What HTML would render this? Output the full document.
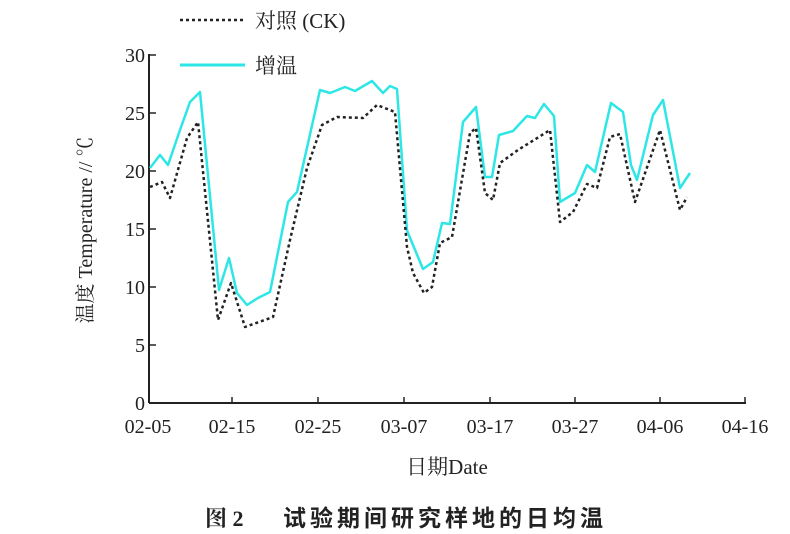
<!DOCTYPE html>
<html><head><meta charset="utf-8"><style>
body{margin:0;background:#fff;}
svg{display:block;}
text{font-family:"Liberation Serif","Noto Serif CJK SC",serif;fill:#222;}
</style></head><body>
<svg width="790" height="534" viewBox="0 0 790 534">
<line x1="180" y1="20" x2="245" y2="20" stroke="#222" stroke-width="2.5" stroke-dasharray="3,3"/>
<text x="255" y="28" font-size="21">对照 (CK)</text>
<line x1="180" y1="65" x2="245" y2="65" stroke="#2ee6e6" stroke-width="3"/>
<text x="255" y="73" font-size="21">增温</text>
<g stroke="#222" stroke-width="2" fill="none">
<line x1="149" y1="54" x2="149" y2="403"/>
<line x1="149" y1="403" x2="746" y2="403"/>
</g>
<g stroke="#222" stroke-width="1.5">
<line x1="149" y1="55" x2="156" y2="55"/>
<line x1="149" y1="113" x2="156" y2="113"/>
<line x1="149" y1="171" x2="156" y2="171"/>
<line x1="149" y1="229" x2="156" y2="229"/>
<line x1="149" y1="287" x2="156" y2="287"/>
<line x1="149" y1="345" x2="156" y2="345"/>
<line x1="232" y1="403" x2="232" y2="397"/>
<line x1="318" y1="403" x2="318" y2="397"/>
<line x1="404" y1="403" x2="404" y2="397"/>
<line x1="490" y1="403" x2="490" y2="397"/>
<line x1="575" y1="403" x2="575" y2="397"/>
<line x1="660" y1="403" x2="660" y2="397"/>
<line x1="745" y1="403" x2="745" y2="397"/>
</g>
<g font-size="20" text-anchor="end">
<text x="145" y="62">30</text><text x="145" y="120">25</text><text x="145" y="178">20</text>
<text x="145" y="236">15</text><text x="145" y="294">10</text><text x="145" y="352">5</text><text x="145" y="410">0</text>
</g>
<g font-size="20" text-anchor="middle">
<text x="148" y="433">02-05</text><text x="232" y="433">02-15</text><text x="318" y="433">02-25</text>
<text x="404" y="433">03-07</text><text x="490" y="433">03-17</text><text x="575" y="433">03-27</text>
<text x="660" y="433">04-06</text><text x="745" y="433">04-16</text>
</g>
<text x="447" y="474" font-size="21" text-anchor="middle">日期Date</text>
<text transform="translate(92,230) rotate(-90)" font-size="20" text-anchor="middle">温度 Temperature // ℃</text>
<polyline fill="none" stroke="#2ee6e6" stroke-width="2.5" stroke-linejoin="round" points="150,168 160,155 168,165 180,130 190,102 200,92 219,290 229,258 237,293 247,305 258,298 270,292 288,202 297,192 320,90 330,93 345,87 355,91 372,81 383,93 390,86 397,89 407,230 408,233 423,269 433,262 442,223 450,224 463,122 476,107 485,177 492,177 499,135 513,131 527,116 535,118 544,104 554,116 560,202 575,193 587,165 595,172 611,103 623,112 631,165 637,180 653,115 663,100 680,188 690,173"/>
<polyline fill="none" stroke="#222" stroke-width="2.5" stroke-dasharray="3,3" stroke-linejoin="round" points="150,187 162,182 170,198 187,138 198,122 218,320 231,283 245,327 273,317 290,240 307,168 322,125 337,117 363,118 377,105 395,112 407,247 413,273 424,293 432,287 440,243 452,237 470,133 476,128 485,193 493,200 500,163 518,150 550,130 560,222 573,212 587,184 597,188 610,137 620,134 635,202 660,130 680,210 687,197"/>
<text x="205" y="526" font-size="22" font-weight="bold" style="font-family:'Liberation Serif','Noto Serif CJK SC',serif">图 2</text>
<text x="283" y="526" font-size="23" font-weight="bold" letter-spacing="4" style="font-family:'Liberation Serif','Noto Sans CJK SC',sans-serif">试验期间研究样地的日均温</text>
</svg>
</body></html>
